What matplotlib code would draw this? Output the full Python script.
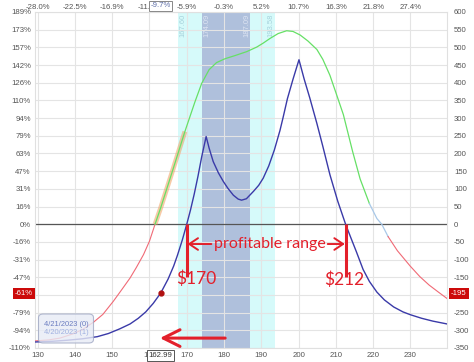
import numpy as np
import matplotlib
matplotlib.use("Agg")
import matplotlib.pyplot as plt
from matplotlib import transforms
from matplotlib.patches import FancyBboxPatch

plt.rcParams['font.family'] = ['Liberation Sans', 'DejaVu Sans']

# price at which the top axis is 0 %, current price, max risk for % axis
base_price = 180.6
current_price = 162.99
current_value = -195
max_risk = 317.5

# blue curve (front expiration)
exp_price = [129.3, 134, 138, 142, 146, 149, 152, 154.8, 157, 159, 161, 163, 165, 166.5,
             167.5, 168.8, 170, 171, 172, 173, 174, 175.2, 176, 177.1, 178.5, 179.8, 181,
             182.5, 183.8, 184.7, 186, 187.9, 189.3, 190.5, 192, 193.5, 195, 195.8, 197,
             198.5, 200.1, 201.5, 203, 204.9, 206.5, 208.4, 210.5, 212.6, 214, 215.5, 217.3,
             219, 221, 223, 225.5, 228, 230, 233, 236, 239.8]
exp_value = [-333, -331, -328, -324, -318, -309, -296, -282, -266, -248, -224, -195, -155, -118,
             -88, -45, 0, 40, 85, 135, 190, 248, 215, 177, 145, 121, 102,
             82, 71, 68, 72, 93, 110, 130, 165, 210, 265, 300, 355,
             410, 465, 410, 357, 285, 220, 140, 65, 0, -38, -78, -128,
             -162, -192, -214, -234, -248, -256, -266, -274, -282]

# T+0 curve
now_price = [129.3, 133, 136, 139.5, 142, 145, 147.5, 150.3, 152.5, 154.8, 156.5, 158.4, 160,
             161.5, 163, 166.4, 169.5, 172.2, 174, 176, 178, 180.3, 183, 186.1, 188.8, 190.5,
             192.3, 194.5, 196.8, 198.5, 200.4, 202.5, 204.9, 206.5, 208.4, 210, 212, 214.5,
             216.5, 219, 221, 222.3, 224, 226.5, 229.9, 232.5, 235, 237.5, 239.8]
now_value = [-330, -327, -322, -310, -298, -277, -255, -218, -186, -152, -122, -86, -48,
             0, 46, 158, 262, 346, 398, 437, 457, 468, 477, 488, 501, 512,
             525, 539, 547, 545, 535, 518, 494, 466, 421, 372, 310, 205,
             128, 58, 16, 0, -35, -75, -118, -148, -172, -192, -210]

# shaded ranges
outer_band = [167.60, 193.58]
inner_band = [174.09, 187.09]
breakevens = [170, 212.6]
highlight = [161.0, 169.5]

red = '#e3202b'
blue = '#3a3aa8'
green = '#66e066'
pink = '#f06a76'

fig = plt.figure(figsize=(4.74, 3.62), dpi=100)
ax = fig.add_axes([35 / 474, 1 - 348 / 362, 412 / 474, 336 / 362])

ax.set_xlim(129.3, 239.8)
ax.set_ylim(-350, 600)
xt = list(range(130, 231, 10))
yt = list(range(-350, 601, 50))
ax.set_xticks(xt)
ax.set_yticks(yt)
ax.set_yticklabels(['%d%%' % round(v / max_risk * 100) for v in yt])
ax.grid(True, color='#e4e4e4', lw=0.8)
ax.set_axisbelow(True)
ax.tick_params(length=0, labelsize=5.6, labelcolor='#555555', pad=3)
for s in ax.spines.values():
    s.set_color('#e0e0e0')

ax2 = ax.twinx()
ax2.set_ylim(ax.get_ylim())
ax2.set_yticks(yt)
ax2.set_yticklabels([str(v) for v in yt])
ax2.tick_params(length=0, labelsize=5.6, labelcolor='#555555', pad=5)
for s in ax2.spines.values():
    s.set_visible(False)

ax3 = ax.twiny()
ax3.set_xlim(ax.get_xlim())
ax3.set_xticks(xt)
ax3.set_xticklabels(['%.1f%%' % ((p / base_price - 1) * 100) for p in xt])
ax3.tick_params(length=0, labelsize=5.6, labelcolor='#555555', pad=1)
for s in ax3.spines.values():
    s.set_visible(False)

ax.axvspan(outer_band[0], outer_band[1], color='#d6fafa', zorder=0.2, lw=0)
ax.axvspan(inner_band[0], inner_band[1], color='#afc0dc', zorder=0.3, lw=0)

ax.axhline(0, color='#555555', lw=0.9, zorder=1.5)

trans = transforms.blended_transform_factory(ax.transData, ax.transAxes)
band_labels = [(outer_band[0], 1.4, '#a6d2dc'), (inner_band[0], 1.4, '#dde4f2'),
               (inner_band[1], -0.9, '#dde4f2'), (outer_band[1], -1.1, '#a6d2dc')]
for edge, off, col in band_labels:
    ax.text(edge + off, 0.995, '%.2f' % edge, rotation=90, ha='center', va='top',
            fontsize=5.5, color=col, transform=trans)

# T+0 curve coloured by sign
now_price = np.array(now_price)
now_value = np.array(now_value)
m = now_price <= 161.5
ax.plot(now_price[m], now_value[m], color=pink, lw=0.8, zorder=3)
m = (now_price >= 161.5) & (now_price <= 219)
ax.plot(now_price[m], now_value[m], color=green, lw=0.9, zorder=3)
m = (now_price >= 219) & (now_price <= 224)
ax.plot(now_price[m], now_value[m], color='#a8c8e8', lw=0.9, zorder=3)
m = now_price >= 224
ax.plot(now_price[m], now_value[m], color=pink, lw=0.8, zorder=3)

m = (now_price >= highlight[0] - 0.5) & (now_price <= highlight[1])
ax.plot(now_price[m], now_value[m], color='#f0a060', lw=3.5, alpha=0.55,
        solid_capstyle='butt', zorder=2.8)

ax.plot(exp_price, exp_value, color=blue, lw=1.0, zorder=4)
ax.plot([current_price], [current_value], 'o', color='#b01010', ms=3.5, zorder=5)

# profitable range annotations
for b in breakevens:
    ax.plot([b, b], [0, -150], color=red, lw=2.2, solid_capstyle='butt', zorder=6)
ax.annotate('', xy=(breakevens[0] + 0.2, -56), xytext=(176.6, -56),
            arrowprops=dict(arrowstyle='->,head_length=0.45,head_width=0.3', color=red,
                            lw=1.4, mutation_scale=14, shrinkA=0, shrinkB=0), zorder=6)
ax.annotate('', xy=(breakevens[1] - 0.2, -56), xytext=(207.8, -56),
            arrowprops=dict(arrowstyle='->,head_length=0.45,head_width=0.3', color=red,
                            lw=1.4, mutation_scale=14, shrinkA=0, shrinkB=0), zorder=6)
ax.text(192.3, -56, 'profitable range', ha='center', va='center', fontsize=11.5,
        color=red, family=['Lato', 'DejaVu Sans'], zorder=6)
ax.text(172.6, -155, '$170', ha='center', va='center', fontsize=12.5, color=red,
        family=['Lato', 'DejaVu Sans'], zorder=6)
ax.text(212.3, -157, '$212', ha='center', va='center', fontsize=12.5, color=red,
        family=['Lato', 'DejaVu Sans'], zorder=6)

ax.annotate('', xy=(162.8, -322), xytext=(180.3, -322),
            arrowprops=dict(arrowstyle='->,head_length=0.6,head_width=0.3', color=red,
                            lw=2.2, mutation_scale=20, shrinkA=0, shrinkB=0), zorder=6)

# date legend
box = FancyBboxPatch((38.5 / 474, 1 - 343 / 362), 55 / 474, 29 / 362,
                     boxstyle='round,pad=0,rounding_size=0.01', transform=fig.transFigure,
                     facecolor='#e8ecf6', edgecolor='#a0a8c4', lw=0.8, alpha=0.8, zorder=7)
fig.patches.append(box)
fig.text(44 / 474, 1 - 324 / 362, '4/21/2023 (0)', fontsize=5.4, color='#6a7cc0',
         va='center', zorder=8)
fig.text(44 / 474, 1 - 333 / 362, '4/20/2023 (1)', fontsize=5.4, color='#9fb0e0',
         va='center', zorder=8)

# current price markers
top_pct = int((current_price / base_price - 1) * 1000) / 10
ax.text(current_price, -0.012, '%.2f' % current_price, transform=trans, ha='center', va='top',
        fontsize=5.6, color='#333333', zorder=8,
        bbox=dict(boxstyle='square,pad=0.2', fc='white', ec='#555555', lw=0.7))
ax3.text(current_price, 1.018, '%.1f%%' % top_pct, transform=trans, ha='center',
         va='center', fontsize=5.6, color='#6070a8', zorder=8,
         bbox=dict(boxstyle='square,pad=0.2', fc='white', ec='#888888', lw=0.7))

pct = current_value / max_risk * 100
ax.text(-0.005, current_value, '%d%%' % round(pct), transform=ax.get_yaxis_transform(),
        ha='right', va='center', fontsize=5.6, color='white',
        bbox=dict(boxstyle='square,pad=0.25', fc='#cc0a0a', ec='none'))
ax2.text(1.01, current_value, '%d' % current_value, transform=ax2.get_yaxis_transform(),
         ha='left', va='center', fontsize=5.6, color='white',
         bbox=dict(boxstyle='square,pad=0.25', fc='#cc0a0a', ec='none'))

fig.savefig('out.png', dpi=100)
